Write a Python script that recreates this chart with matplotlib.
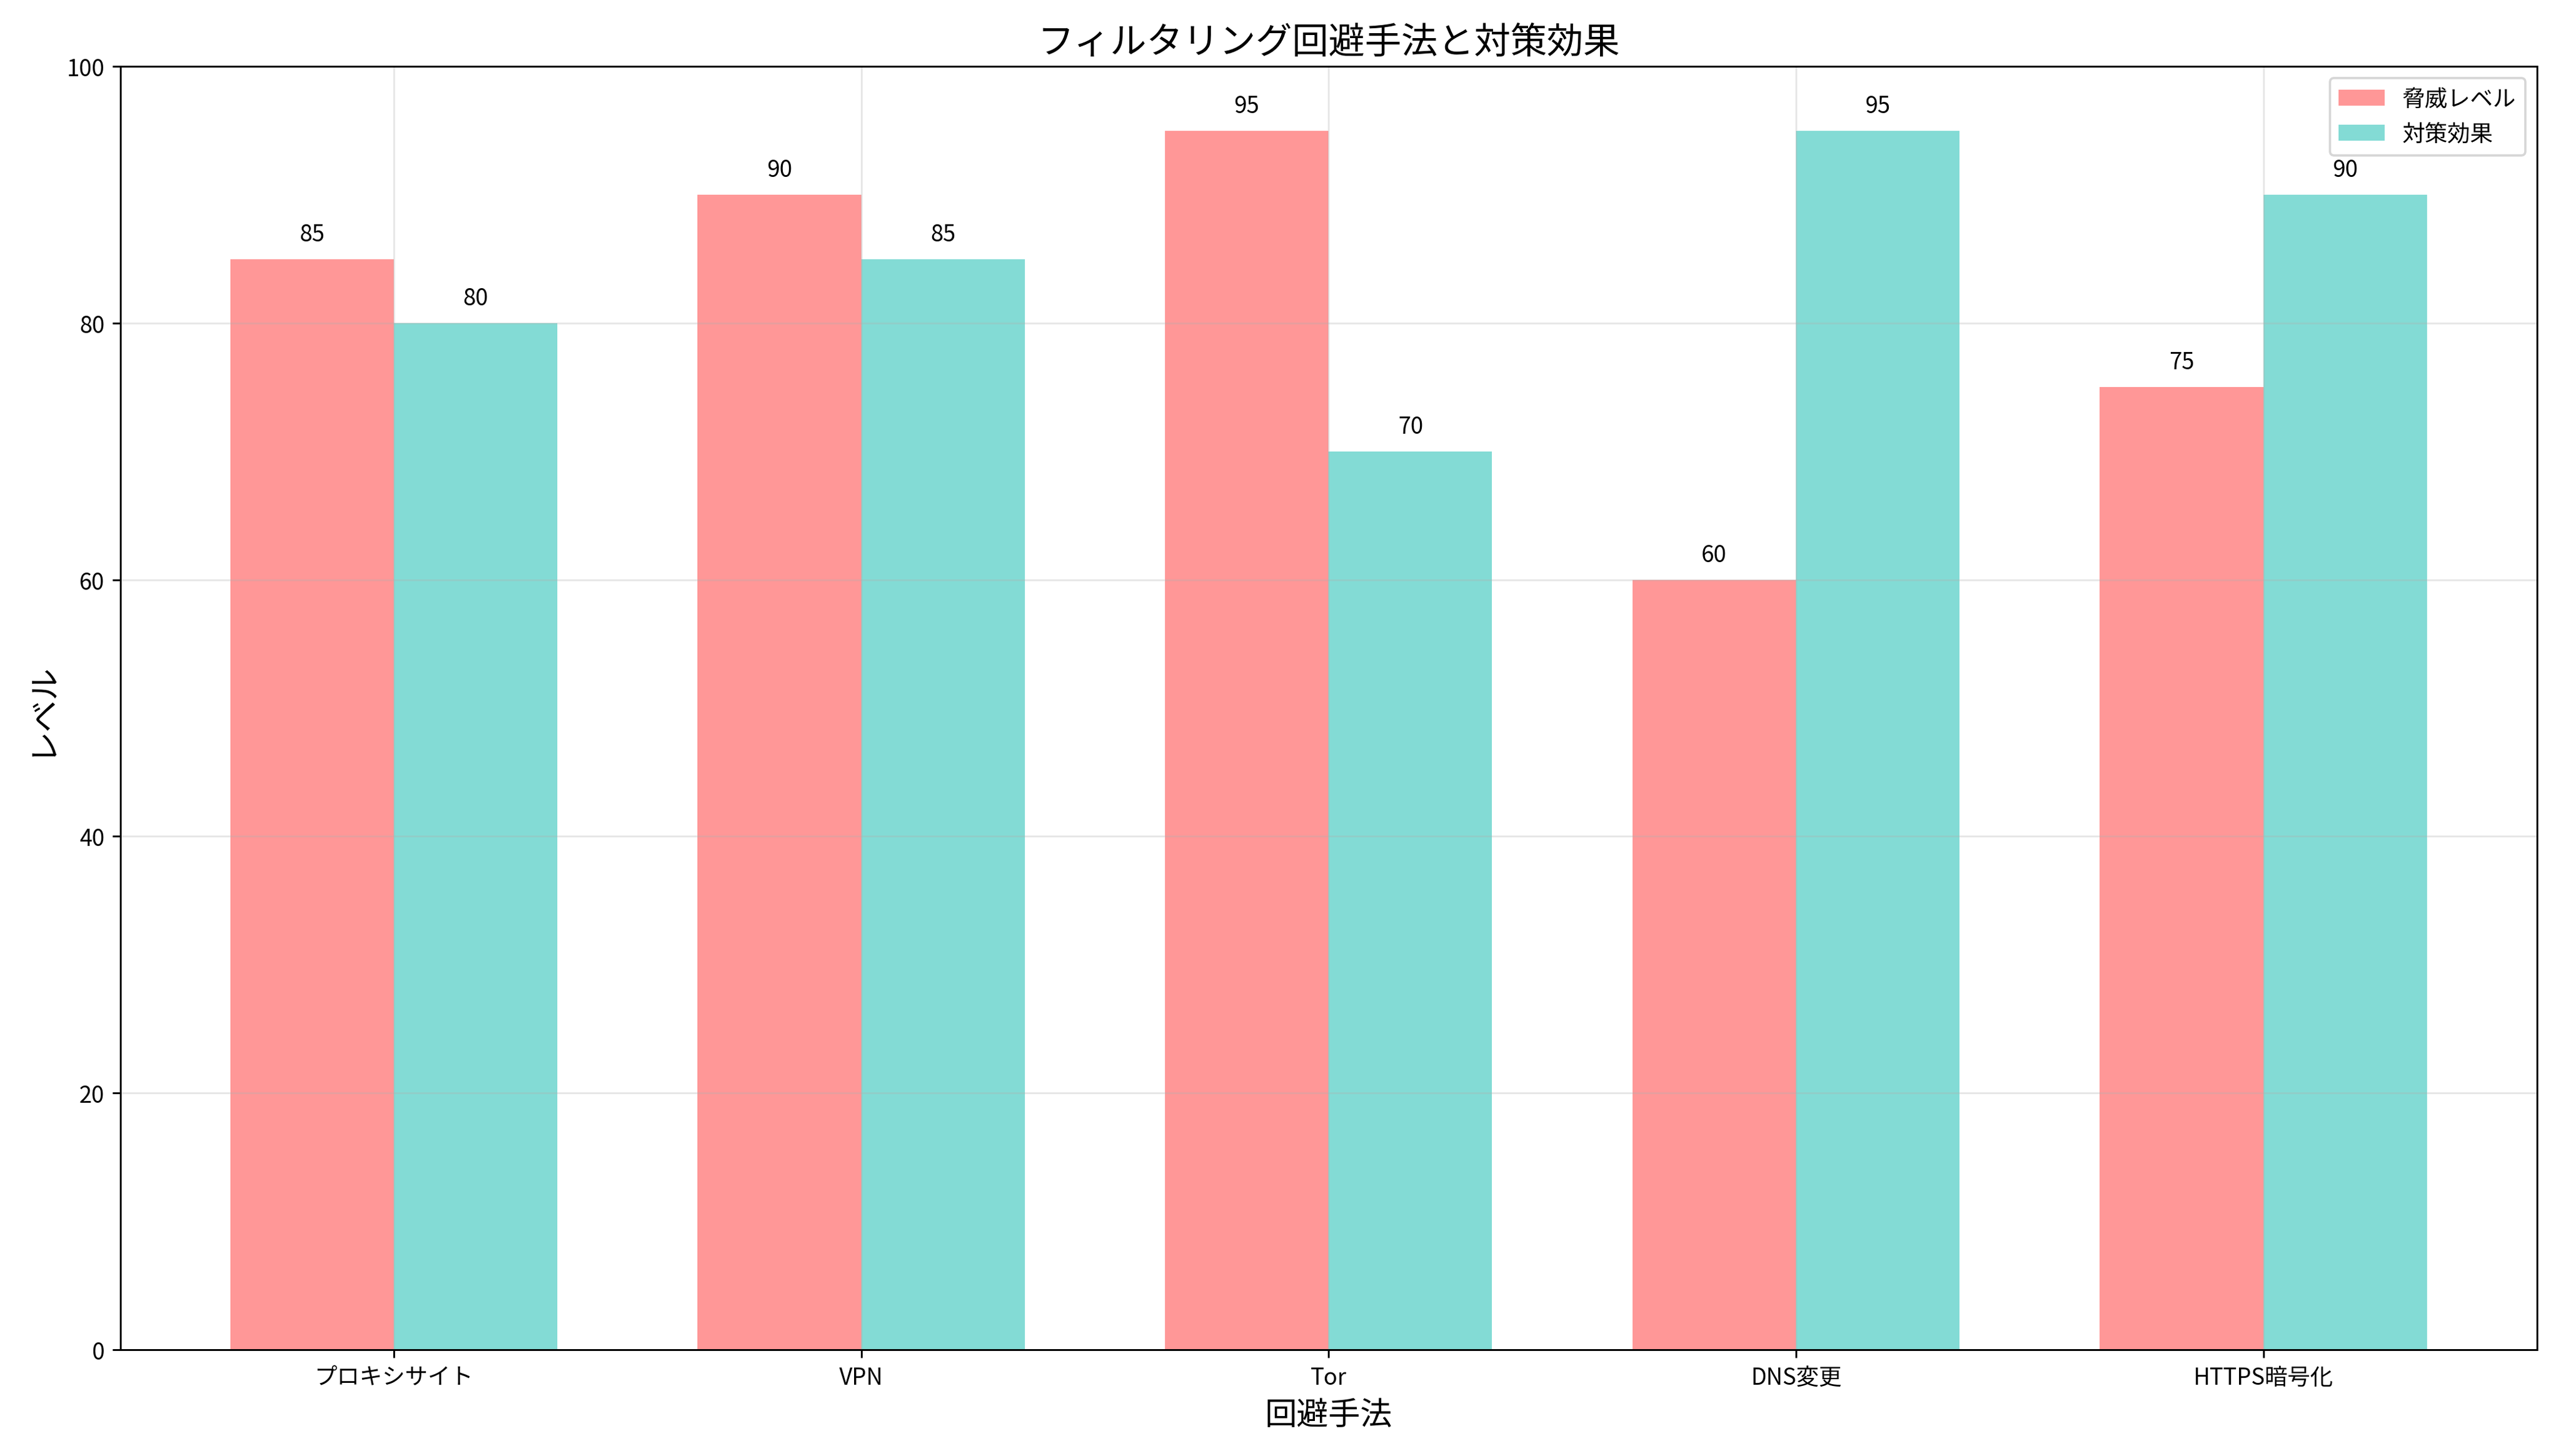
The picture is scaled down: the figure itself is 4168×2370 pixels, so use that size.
import matplotlib
matplotlib.use("Agg")
import matplotlib.pyplot as plt
import numpy as np

plt.rcParams['font.family'] = ['Noto Sans CJK JP', 'DejaVu Sans']

methods = ['プロキシサイト', 'VPN', 'Tor', 'DNS変更', 'HTTPS暗号化']
threat = [85, 90, 95, 60, 75]
counter = [80, 85, 70, 95, 90]

fig, ax = plt.subplots(figsize=(15.63, 8.89), dpi=266.7)
x = np.arange(len(methods))
w = 0.35
b1 = ax.bar(x - w/2, threat, w, label='脅威レベル', color='#FF6B6B', alpha=0.7)
b2 = ax.bar(x + w/2, counter, w, label='対策効果', color='#4ECDC4', alpha=0.7)

for bars in (b1, b2):
    for b in bars:
        ax.text(b.get_x() + b.get_width()/2, b.get_height() + 1, f'{int(b.get_height())}',
                ha='center', va='bottom', fontsize=10)

ax.set_xticks(x)
ax.set_xticklabels(methods)
ax.set_ylim(0, 100)
ax.set_xlabel('回避手法', fontsize=14)
ax.set_ylabel('レベル', fontsize=14)
ax.set_title('フィルタリング回避手法と対策効果', fontsize=16)
ax.legend()
ax.grid(True, alpha=0.3)
plt.tight_layout()
plt.savefig('out.png')
